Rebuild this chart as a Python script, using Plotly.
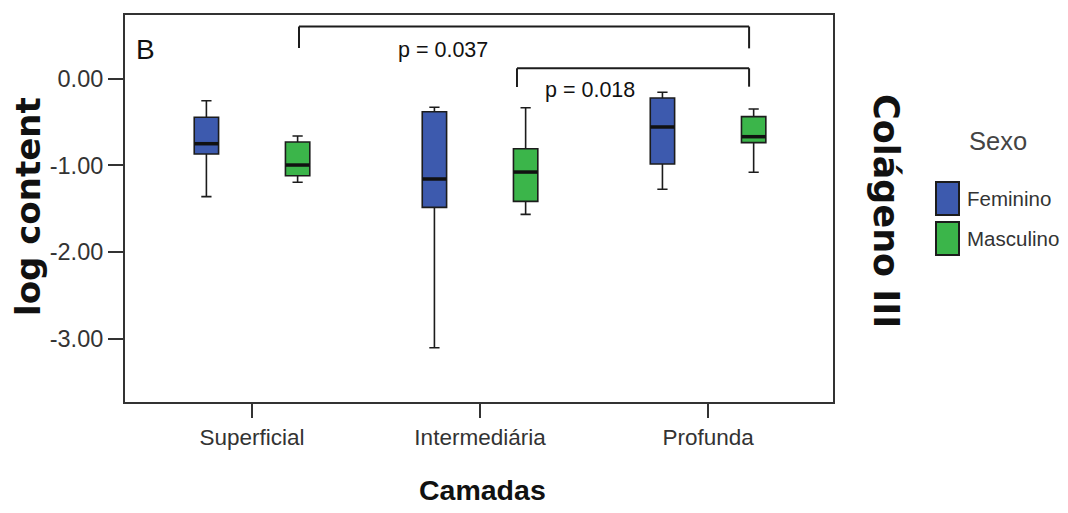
import plotly.graph_objects as go

# Layers (x categories)
camadas = ["Superficial", "Intermediária", "Profunda"]

# Box summaries of log content, Feminino
fem_low = [-1.361, -3.104, -1.276]
fem_q1 = [-0.869, -1.484, -0.984]
fem_median = [-0.750, -1.157, -0.557]
fem_q3 = [-0.445, -0.381, -0.223]
fem_high = [-0.254, -0.330, -0.157]

# Box summaries of log content, Masculino
masc_low = [-1.195, -1.565, -1.080]
masc_q1 = [-1.119, -1.415, -0.738]
masc_median = [-0.996, -1.077, -0.669]
masc_q3 = [-0.730, -0.808, -0.438]
masc_high = [-0.661, -0.335, -0.350]

y_tickvals = [0, -1, -2, -3]
y_ticktext = ["0.00", "-1.00", "-2.00", "-3.00"]

sexo = ["Feminino", "Masculino"]
p_labels = ["p = 0.037", "p = 0.018"]

BLUE = "#3d5aae"
GREEN = "#3bb54a"
EDGE = "#1c1c1c"
SANS = "Liberation Sans, Arial, sans-serif"
BOLD = "DejaVu Sans, Liberation Sans, Arial, sans-serif"

W, H = 1068, 513
X0, X1, Y0, Y1 = 125, 833, 15, 402  # plot area in pixels

BOXGAP, GROUPGAP = 0.2, 0.733


def fx(px):
    return (px - X0) / (X1 - X0)


def fy(py):
    return (Y1 - py) / (Y1 - Y0)


fig = go.Figure()
series = [
    (sexo[0], BLUE, fem_low, fem_q1, fem_median, fem_q3, fem_high),
    (sexo[1], GREEN, masc_low, masc_q1, masc_median, masc_q3, masc_high),
]
for name, col, lo, q1, med, q3, hi in series:
    fig.add_trace(go.Box(
        name=name, x=camadas, q1=q1, median=med, q3=q3,
        lowerfence=lo, upperfence=hi,
        fillcolor=col, line=dict(color=EDGE, width=1.6),
        whiskerwidth=0.42, boxpoints=False, showlegend=False,
        hoverinfo="skip",
    ))

# heavier median bars, placed at the grouped box offsets
offset = (1 - BOXGAP) / 4
half_w = 0.5 * (1 - BOXGAP) * (1 - GROUPGAP) / 2
for k, (_, _, _, _, med, _, _) in enumerate(series):
    shift = -offset if k == 0 else offset
    for i, m in enumerate(med):
        fig.add_shape(type="line", xref="x", yref="y",
                      x0=i + shift - half_w, x1=i + shift + half_w, y0=m, y1=m,
                      line=dict(color="#111", width=3.5))


# significance brackets
def bracket(xa, xb, ytop, yla, ylb):
    style = dict(color=EDGE, width=2)
    fig.add_shape(type="line", xref="x", yref="y", x0=xa, x1=xb, y0=ytop, y1=ytop, line=style)
    fig.add_shape(type="line", xref="x", yref="y", x0=xa, x1=xa, y0=ytop, y1=yla, line=style)
    fig.add_shape(type="line", xref="x", yref="y", x0=xb, x1=xb, y0=ytop, y1=ylb, line=style)


bracket(0.206, 2.18, 0.602, 0.354, 0.350)
bracket(1.162, 2.18, 0.120, -0.096, -0.092)

ann = []
ann.append(dict(x=0.838, y=0.337, xref="x", yref="y", text=p_labels[0], showarrow=False,
                font=dict(family=SANS, size=21.5, color="#111"), xanchor="center", yanchor="middle"))
ann.append(dict(x=1.482, y=-0.130, xref="x", yref="y", text=p_labels[1], showarrow=False,
                font=dict(family=SANS, size=21.5, color="#111"), xanchor="center", yanchor="middle"))

# panel letter
ann.append(dict(x=fx(145.5), y=fy(49), xref="paper", yref="paper", text="B", showarrow=False,
                font=dict(family=SANS, size=28, color="#111"), xanchor="center", yanchor="middle"))

# axis titles
ann.append(dict(x=fx(28), y=fy(207), xref="paper", yref="paper", text="<b>log content</b>",
                showarrow=False, textangle=-90,
                font=dict(family=BOLD, size=34, color="#111"), xanchor="center", yanchor="middle"))
ann.append(dict(x=fx(482), y=fy(490), xref="paper", yref="paper", text="<b>Camadas</b>",
                showarrow=False,
                font=dict(family=SANS, size=28.5, color="#111"), xanchor="center", yanchor="middle"))
ann.append(dict(x=fx(886), y=fy(211), xref="paper", yref="paper", text="<b>Colágeno III</b>",
                showarrow=False, textangle=90,
                font=dict(family=BOLD, size=35, color="#111"), xanchor="center", yanchor="middle"))

# legend
ann.append(dict(x=fx(998), y=fy(141), xref="paper", yref="paper", text="Sexo", showarrow=False,
                font=dict(family=SANS, size=25.5, color="#444"), xanchor="center", yanchor="middle"))
for i, (label, col) in enumerate(zip(sexo, [BLUE, GREEN])):
    top = 182 + 40 * i
    fig.add_shape(type="rect", xref="paper", yref="paper",
                  x0=fx(936), x1=fx(959), y0=fy(top + 33), y1=fy(top),
                  fillcolor=col, line=dict(color=EDGE, width=2))
    ann.append(dict(x=fx(965), y=fy(top + 16.5), xref="paper", yref="paper", text=label,
                    showarrow=False, font=dict(family=SANS, size=20.5, color="#333"),
                    xanchor="left", yanchor="middle"))

fig.update_layout(
    width=W, height=H,
    margin=dict(l=X0, r=W - X1, t=Y0, b=H - Y1, pad=0),
    paper_bgcolor="white", plot_bgcolor="white",
    boxmode="group", boxgap=BOXGAP, boxgroupgap=GROUPGAP,
    annotations=ann,
    xaxis=dict(
        range=[-0.557, 2.548], showgrid=False, zeroline=False,
        showline=True, mirror=True, linecolor="#333", linewidth=2,
        ticks="outside", ticklen=14, tickwidth=2, tickcolor="#333",
        tickfont=dict(family=SANS, size=22.5, color="#333"),
    ),
    yaxis=dict(
        range=[-3.730, 0.735], showgrid=False, zeroline=False,
        showline=True, mirror=True, linecolor="#333", linewidth=2,
        ticks="outside", ticklen=15, tickwidth=2, tickcolor="#333",
        tickvals=y_tickvals, ticktext=y_ticktext,
        tickfont=dict(family=SANS, size=23.5, color="#333"),
    ),
)

fig.write_html("out.html")
